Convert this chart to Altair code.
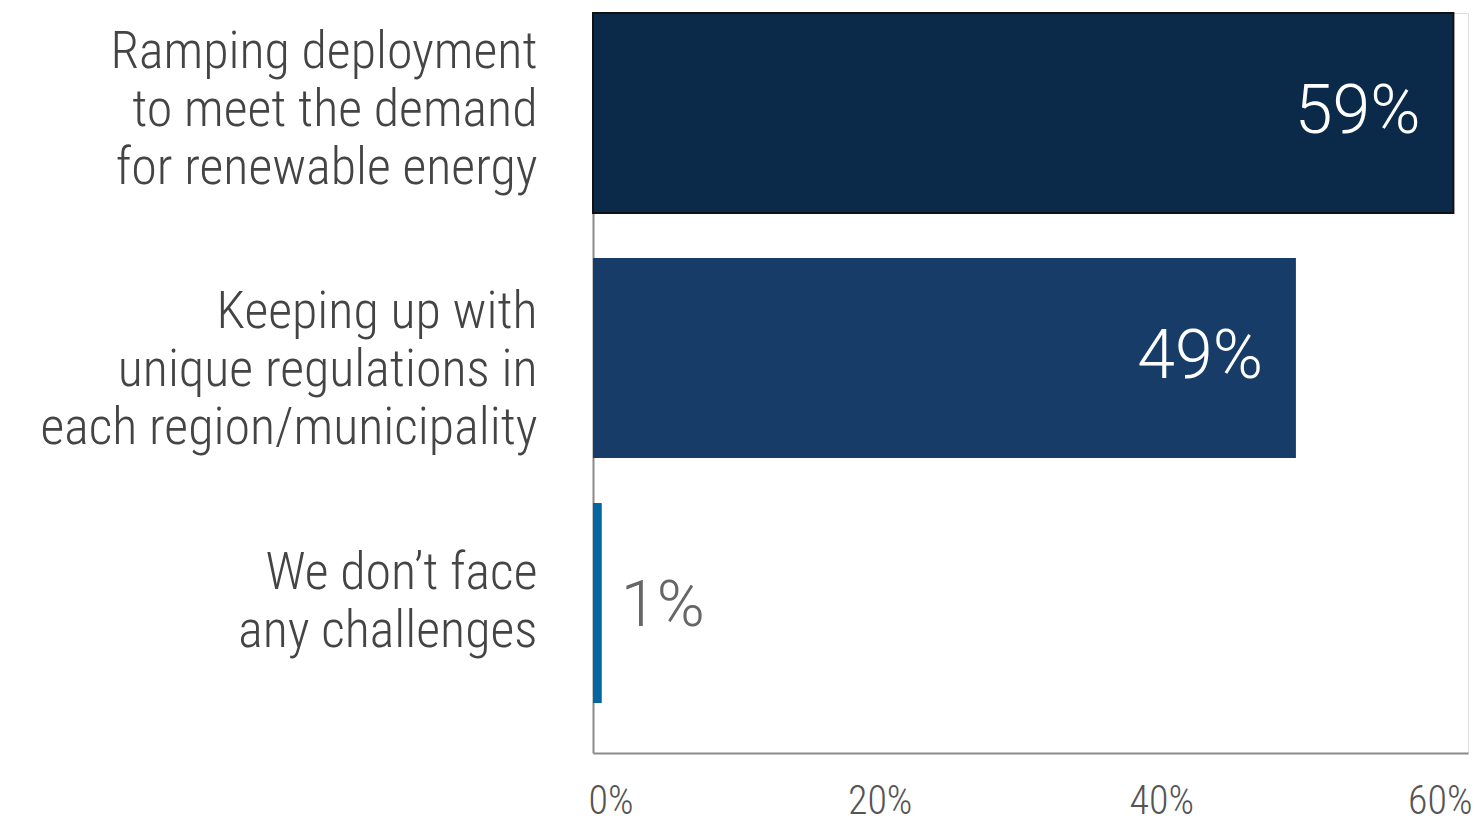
import altair as alt
import pandas as pd

categories = [
    "Ramping deployment|to meet the demand|for renewable energy",
    "Keeping up with|unique regulations in|each region/municipality",
    "We don’t face|any challenges",
]
values = [59.0, 48.2, 0.6]
value_labels = ["59%", "49%", "1%"]
bar_colors = ["#0b2a49", "#183c68", "#0765a0"]
bar_strokes = ["#111111", "#183c68", "#0765a0"]
stroke_widths = [2, 0, 0]
x_ticks = [0, 20, 40, 60]

df = pd.DataFrame({
    "category": categories,
    "value": values,
    "label": value_labels,
    "color": bar_colors,
    "stroke": bar_strokes,
    "sw": stroke_widths,
})

FONT = "Roboto Condensed, Liberation Sans Narrow, Roboto"

y_label_offset = {
    "condition": [
        {"test": "indexof(datum.value, 'any challenges') >= 0", "value": -30},
        {"test": "indexof(datum.value, 'Keeping up') >= 0", "value": -46},
    ],
    "value": -61,
}

x_label_offset = {
    "condition": [
        {"test": "datum.value == 0", "value": -5},
        {"test": "datum.value == 20", "value": -5},
        {"test": "datum.value == 40", "value": -15},
    ],
    "value": 4,
}

y_enc = alt.Y(
    "category:N",
    sort=categories,
    scale=alt.Scale(paddingInner=0.184, paddingOuter=0.102, align=0),
    axis=alt.Axis(
        title=None,
        labelExpr="split(datum.label, '|')",
        labelFont=FONT,
        labelFontSize=52,
        labelFontWeight=300,
        labelColor="#444444",
        labelLineHeight=58,
        labelPadding=56,
        labelLimit=600,
        labelOffset=y_label_offset,
        ticks=False,
        domainColor="#8a8a8a",
        domainWidth=2,
    ),
)

x_enc = alt.X(
    "value:Q",
    scale=alt.Scale(domain=[0, 60], nice=False, zero=True),
    axis=alt.Axis(
        title=None,
        values=x_ticks,
        labelExpr="datum.value + '%'",
        labelFont=FONT,
        labelFontSize=40,
        labelFontWeight=300,
        labelColor="#555555",
        labelPadding=28,
        labelFlush=True,
        labelOffset=x_label_offset,
        ticks=False,
        grid=False,
        domainColor="#8a8a8a",
        domainWidth=2,
    ),
)

bars = alt.Chart(df).mark_bar().encode(
    y=y_enc,
    x=x_enc,
    color=alt.Color("color:N", scale=None),
    stroke=alt.Stroke("stroke:N", scale=None),
    strokeWidth=alt.StrokeWidth("sw:Q", scale=None),
)

inside = alt.Chart(df).transform_filter("datum.value >= 10").mark_text(
    align="right", baseline="middle", dx=-33, font="Roboto", fontWeight=300,
    fontSize=68, color="white"
).encode(y=alt.Y("category:N", sort=categories), x="value:Q", text="label:N")

outside = alt.Chart(df).transform_filter("datum.value < 10").mark_text(
    align="left", baseline="middle", dx=19, dy=3, font="Roboto", fontWeight=300,
    fontSize=65, color="#666666"
).encode(y=alt.Y("category:N", sort=categories), x="value:Q", text="label:N")

chart = alt.layer(bars, inside, outside).properties(
    width=875,
    height=740,
    autosize=alt.AutoSizeParams(type="none"),
    padding={"left": 593, "top": 13, "right": 8, "bottom": 69},
).configure_view(stroke=None).configure(background="white")

chart.save("out.html", embed_options={"renderer": "svg", "actions": False})
